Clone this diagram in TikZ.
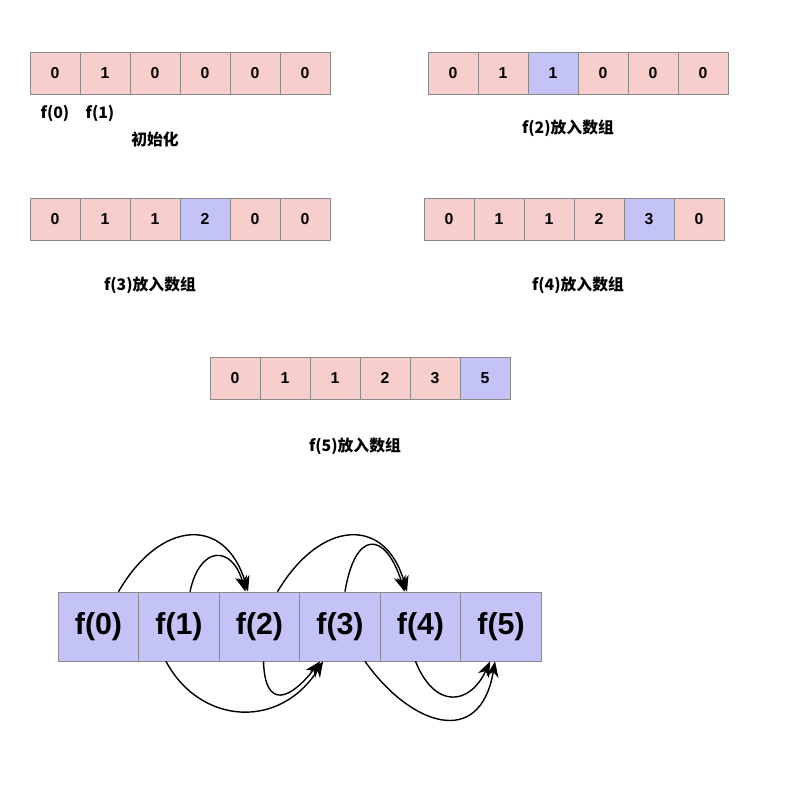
\documentclass[tikz,border=0pt]{standalone}
\usepackage{fontspec}
\setmainfont{Liberation Sans}
\newfontfamily\cjk{Noto Sans CJK SC}
\usetikzlibrary{arrows.meta}
\definecolor{cellred}{HTML}{F8CECC}
\definecolor{cellblue}{HTML}{C3C3F7}
\definecolor{cellline}{HTML}{8A8A8A}

\begin{document}
\begin{tikzpicture}[x=0.02cm,y=-0.02cm,
  cell/.style={draw=cellline,fill=cellred,minimum width=1cm,minimum height=0.84cm,inner sep=0pt,font=\bfseries\small},
  bigcell/.style={draw=cellline,fill=cellblue,minimum width=1.61cm,minimum height=1.38cm,inner sep=0pt,font=\bfseries\LARGE},
  lbl/.style={font=\cjk\bfseries\small},
  jump/.style={-{Stealth[length=9pt,width=7pt]},thick}]
\useasboundingbox (0,0) rectangle (797,786);
% the five arrays
\foreach \v [count=\i] in {0,1,0,0,0,0}
  \node[cell] (a\i) at (5+50*\i,73) {\v};
\foreach \v [count=\i] in {0,1,1,0,0,0}
  \node[cell] (b\i) at (403+50*\i,73) {\v};
\foreach \v [count=\i] in {0,1,1,2,0,0}
  \node[cell] (c\i) at (5+50*\i,219) {\v};
\foreach \v [count=\i] in {0,1,1,2,3,0}
  \node[cell] (d\i) at (399+50*\i,219) {\v};
\foreach \v [count=\i] in {0,1,1,2,3,5}
  \node[cell] (e\i) at (185+50*\i,378) {\v};
\node[cell,fill=cellblue] at (b3) {1};
\node[cell,fill=cellblue] at (c4) {2};
\node[cell,fill=cellblue] at (d5) {3};
\node[cell,fill=cellblue] at (e6) {5};
\node[lbl] (f0) at (55,113) {f(0)};
\node[lbl] (f1) at (100,113) {f(1)};
\node[lbl] (init) at (155,139) {初始化};
\node[lbl] (lb) at (568,128) {f(2)放入数组};
\node[lbl] (lc) at (150,285) {f(3)放入数组};
\node[lbl] (ld) at (578,285) {f(4)放入数组};
\node[lbl] (le) at (355,446) {f(5)放入数组};
% the bottom row
\foreach \i in {0,...,5}
  \node[bigcell] (g\i) at (98.5+80.5*\i,626.5) {f(\i)};
\draw[jump] (g0.north) ++(20,0) .. controls (160,520) and (225,515) .. ([xshift=-6.5pt]g2.north);
\draw[jump] (g1.north) ++(11,0) .. controls (200,545) and (232,545) .. ([xshift=-8pt]g2.north);
\draw[jump] (g2.north) ++(18,0) .. controls (320,520) and (385,515) .. ([xshift=-7.7pt]g4.north);
\draw[jump] (g3.north) ++(5,0) .. controls (355,530) and (385,530) .. ([xshift=-9pt]g4.north);
\draw[jump] (g1.south) ++(-13,0) .. controls (200,725) and (280,730) .. ([xshift=-9.6pt]g3.south);
\draw[jump] (g2.south) ++(4,0) .. controls (265,710) and (290,700) .. ([xshift=-11.3pt]g3.south);
\draw[jump] (g3.south) ++(25,0) .. controls (410,725) and (480,750) .. ([xshift=-3.4pt]g5.south);
\draw[jump] (g4.south) ++(-5,0) .. controls (435,710) and (470,705) .. ([xshift=-6.2pt]g5.south);
\end{tikzpicture}
\end{document}
